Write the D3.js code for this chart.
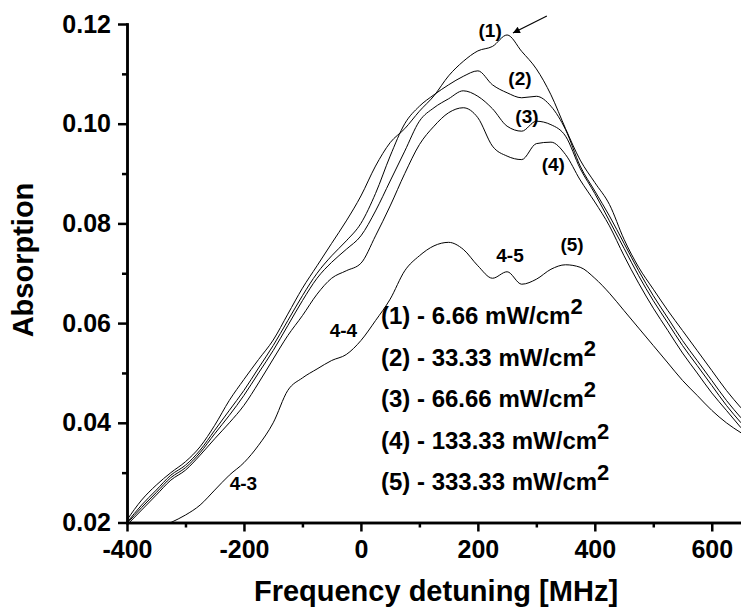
<!DOCTYPE html>
<html>
<head>
<meta charset="utf-8">
<script src="https://cdn.jsdelivr.net/npm/d3@7"></script>
<style>
  body { margin: 0; background: #fff; }
  text { font-family: "Liberation Sans", Arial, sans-serif; font-weight: bold; }
  .axis path, .axis line { stroke: #000; stroke-width: 2.5; }
  .curve { fill: none; stroke: #000; stroke-width: 1; }
</style>
</head>
<body>
<svg width="741" height="611"></svg>
<script>
// detuning grid, MHz
const freq = [-400, -375, -350, -325, -300, -275, -250, -225, -200, -175, -150, -125, -100, -75, -50, -25,
  0, 25, 50, 75, 100, 125, 150, 175, 200, 225, 250, 275, 300, 325, 350, 375, 400, 425, 450, 475,
  500, 525, 550, 575, 600, 625, 650];

// absorption for each intensity
const abs1 = [0.0205, 0.0245, 0.0275, 0.0300, 0.0322, 0.0352, 0.0395, 0.0445, 0.0487, 0.0527, 0.0566, 0.0618, 0.0670, 0.0715, 0.0760, 0.0805,
  0.0855, 0.0915, 0.0962, 0.0990, 0.1025, 0.1056, 0.1096, 0.1125, 0.1146, 0.1155, 0.1178, 0.1145, 0.1110, 0.1058, 0.0990, 0.0927, 0.0882, 0.0838, 0.0768, 0.0712,
  0.0668, 0.0625, 0.0585, 0.0545, 0.0505, 0.0465, 0.0430];
const abs2 = [0.0200, 0.0235, 0.0265, 0.0295, 0.0315, 0.0345, 0.0385, 0.0425, 0.0465, 0.0510, 0.0555, 0.0605, 0.0655, 0.0700, 0.0735, 0.0765,
  0.0800, 0.0860, 0.0935, 0.1000, 0.1035, 0.1058, 0.1078, 0.1095, 0.1106, 0.1078, 0.1062, 0.1052, 0.1055, 0.1035, 0.0988, 0.0915, 0.0865, 0.0815, 0.0760, 0.0705,
  0.0655, 0.0610, 0.0565, 0.0525, 0.0485, 0.0445, 0.0410];
const abs3 = [0.0198, 0.0230, 0.0260, 0.0290, 0.0310, 0.0340, 0.0378, 0.0415, 0.0455, 0.0500, 0.0545, 0.0595, 0.0645, 0.0690, 0.0722, 0.0748,
  0.0775, 0.0825, 0.0885, 0.0945, 0.1005, 0.1032, 0.1050, 0.1066, 0.1055, 0.1030, 0.0995, 0.0985, 0.1005, 0.0998, 0.0975, 0.0910, 0.0860, 0.0805, 0.0750, 0.0695,
  0.0645, 0.0600, 0.0555, 0.0515, 0.0475, 0.0435, 0.0400];
const abs4 = [0.0195, 0.0225, 0.0255, 0.0285, 0.0305, 0.0335, 0.0368, 0.0400, 0.0435, 0.0480, 0.0528, 0.0575, 0.0615, 0.0658, 0.0690, 0.0705,
  0.0720, 0.0775, 0.0835, 0.0900, 0.0958, 0.0995, 0.1022, 0.1032, 0.1012, 0.0955, 0.0935, 0.0928, 0.0960, 0.0963, 0.0938, 0.0887, 0.0843, 0.0795, 0.0735, 0.0680,
  0.0630, 0.0585, 0.0540, 0.0500, 0.0460, 0.0425, 0.0390];
const abs5 = [null, null, null, 0.0200, 0.0215, 0.0235, 0.0265, 0.0295, 0.0320, 0.0355, 0.0400, 0.0465, 0.0490, 0.0508, 0.0525, 0.0537,
  0.0565, 0.0605, 0.0648, 0.0705, 0.0735, 0.0755, 0.0762, 0.0748, 0.0715, 0.0690, 0.0703, 0.0678, 0.0688, 0.0708, 0.0717, 0.0712, 0.0690, 0.0660, 0.0625, 0.0590,
  0.0555, 0.0520, 0.0485, 0.0455, 0.0425, 0.0400, 0.0380];

const xTicks = [-400, -200, 0, 200, 400, 600];
const xMinor = [-300, -100, 100, 300, 500];
const yTicks = [0.02, 0.04, 0.06, 0.08, 0.10, 0.12];
const yMinor = [0.03, 0.05, 0.07, 0.09, 0.11];

const legendLabels = ["(1) - 6.66 mW/cm", "(2) - 33.33 mW/cm", "(3) - 66.66 mW/cm", "(4) - 133.33 mW/cm", "(5) - 333.33 mW/cm"];

// curve tags and transition labels, placed in data units (text baseline)
const curveTags = [
  { text: "(1)", f: 221, a: 0.1174 },
  { text: "(2)", f: 272, a: 0.1078 },
  { text: "(3)", f: 284, a: 0.1001 },
  { text: "(4)", f: 329, a: 0.0905 },
  { text: "(5)", f: 361, a: 0.0745 },
  { text: "4-5", f: 255, a: 0.0723 },
  { text: "4-4", f: -30, a: 0.0572 },
  { text: "4-3", f: -201, a: 0.0265 }
];

const svg = d3.select("svg");
const width = +svg.attr("width");

const x = d3.scaleLinear().domain([-400, 650]).range([127, 741]);
const y = d3.scaleLinear().domain([0.02, 0.12]).range([522.5, 24]);

svg.append("defs")
  .append("clipPath")
  .attr("id", "plot")
  .append("rect")
  .attr("x", x(-400))
  .attr("y", y(0.12))
  .attr("width", width - x(-400))
  .attr("height", y(0.02) - y(0.12));

const line = d3
  .line()
  .defined(d => d[1] != null)
  .x(d => x(d[0]))
  .y(d => y(d[1]))
  .curve(d3.curveMonotoneX);

const series = [abs1, abs2, abs3, abs4, abs5];
svg
  .append("g")
  .attr("clip-path", "url(#plot)")
  .selectAll(".curve")
  .data(series)
  .enter()
  .append("path")
  .classed("curve", true)
  .attr("d", s => line(freq.map((f, i) => [f, s[i]])));

// axes: major ticks with labels, minor ticks without
function drawAxis(axis, tr) {
  const g = svg.append("g").classed("axis", true).attr("transform", tr).call(axis);
  g.selectAll("text").attr("font-size", 25).attr("fill", "#000");
  return g;
}

drawAxis(d3.axisBottom(x).tickValues(xTicks).tickSize(9).tickSizeOuter(0).tickPadding(9).tickFormat(d => String(d)),
  "translate(0," + y(0.02) + ")");
drawAxis(d3.axisBottom(x).tickValues(xMinor).tickSize(5).tickSizeOuter(0).tickFormat(""),
  "translate(0," + y(0.02) + ")");
drawAxis(d3.axisLeft(y).tickValues(yTicks).tickSize(9).tickSizeOuter(0).tickPadding(7).tickFormat(d3.format(".2f")),
  "translate(" + x(-400) + ",0)");
drawAxis(d3.axisLeft(y).tickValues(yMinor).tickSize(5).tickSizeOuter(0).tickFormat(""),
  "translate(" + x(-400) + ",0)");

svg.selectAll(".axis path").attr("stroke-linecap", "square");

// axis titles
svg
  .append("text")
  .attr("x", 436)
  .attr("y", 601)
  .attr("text-anchor", "middle")
  .attr("font-size", 29)
  .text("Frequency detuning [MHz]");

svg
  .append("text")
  .attr("transform", "translate(33,260) rotate(-90)")
  .attr("text-anchor", "middle")
  .attr("font-size", 29)
  .text("Absorption");

// legend
const legend = svg
  .selectAll(".legend")
  .data(legendLabels)
  .enter()
  .append("text")
  .classed("legend", true)
  .attr("x", 381)
  .attr("y", (d, i) => 324 + i * 41.5)
  .attr("font-size", 24);
legend.append("tspan").text(d => d);
legend.append("tspan").attr("dy", -10).attr("font-size", 22).text("2");

// tags on the curves
svg
  .selectAll(".tag")
  .data(curveTags)
  .enter()
  .append("text")
  .classed("tag", true)
  .attr("x", d => x(d.f))
  .attr("y", d => y(d.a))
  .attr("text-anchor", "middle")
  .attr("font-size", 19)
  .text(d => d.text);

// arrow pointing at the top of curve (1)
svg
  .append("defs")
  .append("marker")
  .attr("id", "head")
  .attr("viewBox", "0 0 10 10")
  .attr("refX", 10)
  .attr("refY", 5)
  .attr("markerWidth", 9)
  .attr("markerHeight", 7)
  .attr("markerUnits", "userSpaceOnUse")
  .attr("orient", "auto")
  .append("path")
  .attr("d", "M0,0L10,5L0,10Z");

svg
  .append("line")
  .attr("x1", x(318))
  .attr("y1", y(0.1216))
  .attr("x2", x(260))
  .attr("y2", y(0.1182))
  .attr("stroke", "#000")
  .attr("stroke-width", 1.2)
  .attr("marker-end", "url(#head)");
</script>
</body>
</html>
